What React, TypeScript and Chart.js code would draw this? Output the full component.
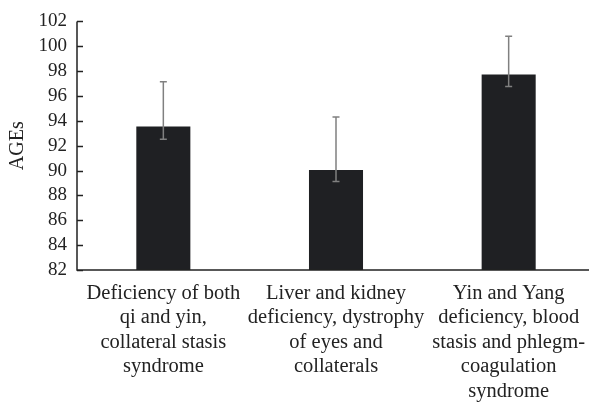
import React, { useEffect, useRef } from "react";
import { Chart, registerables } from "chart.js";

Chart.register(...registerables);

const categories: string[][] = [
  ["Deficiency of both", "qi and yin,", "collateral stasis", "syndrome"],
  ["Liver and kidney", "deficiency, dystrophy", "of eyes and", "collaterals"],
  ["Yin and Yang", "deficiency, blood", "stasis and phlegm-", "coagulation", "syndrome"],
];
const meanValues: number[] = [93.54, 90.04, 97.73];
const errorHigh: number[] = [97.15, 94.31, 100.81];
const errorLow: number[] = [92.51, 89.11, 96.76];
const yTicks: number[] = [82, 84, 86, 88, 90, 92, 94, 96, 98, 100, 102];

const FONT = "'Liberation Serif', serif";

const errorBarPlugin = {
  id: "errorBars",
  afterDatasetsDraw(chart: any) {
    const ctx = chart.ctx;
    const meta = chart.getDatasetMeta(0);
    const y = chart.scales.y;
    ctx.save();
    ctx.strokeStyle = "#808080";
    ctx.lineWidth = 1.5;
    meta.data.forEach((bar: any, i: number) => {
      const x = bar.x;
      const yHi = y.getPixelForValue(errorHigh[i]);
      const yLo = y.getPixelForValue(errorLow[i]);
      ctx.beginPath();
      ctx.moveTo(x, yHi);
      ctx.lineTo(x, yLo);
      ctx.moveTo(x - 3.5, yHi);
      ctx.lineTo(x + 3.5, yHi);
      ctx.moveTo(x - 3.5, yLo);
      ctx.lineTo(x + 3.5, yLo);
      ctx.stroke();
    });
    ctx.restore();
  },
};

const axisPlugin = {
  id: "axisLines",
  afterDraw(chart: any) {
    const ctx = chart.ctx;
    const y = chart.scales.y;
    const area = chart.chartArea;
    ctx.save();
    ctx.strokeStyle = "#222222";
    ctx.lineWidth = 1.5;
    ctx.beginPath();
    ctx.moveTo(area.left, area.top);
    ctx.lineTo(area.left, area.bottom);
    ctx.lineTo(chart.width, area.bottom);
    y.ticks.forEach((t: any) => {
      const py = Math.round(y.getPixelForValue(t.value)) + 0.5;
      ctx.moveTo(area.left, py);
      ctx.lineTo(area.left + 6, py);
    });
    ctx.stroke();
    ctx.restore();
  },
};

export default function App() {
  const ref = useRef<HTMLCanvasElement>(null);
  useEffect(() => {
    if (!ref.current) return;
    const chart = new Chart(ref.current, {
      type: "bar",
      data: {
        labels: categories,
        datasets: [
          {
            data: meanValues,
            backgroundColor: "#1f2023",
            borderWidth: 0,
            categoryPercentage: 1,
            barPercentage: 0.313,
          },
        ],
      },
      options: {
        responsive: false,
        animation: false,
        layout: { padding: { top: 17, right: 5, left: 0, bottom: 0 } },
        plugins: { legend: { display: false }, tooltip: { enabled: false } },
        scales: {
          x: {
            grid: { display: false, drawTicks: false },
            border: { display: false },
            ticks: {
              color: "#222",
              font: { family: FONT, size: 20.5, lineHeight: 1.2 },
              padding: 11,
              maxRotation: 0,
              autoSkip: false,
            },
            afterFit: (s: any) => {
              s.height = 134;
            },
          },
          y: {
            min: 82,
            max: 102,
            afterBuildTicks: (s: any) => {
              s.ticks = yTicks.map((v) => ({ value: v }));
            },
            grid: { display: false, drawTicks: false },
            border: { display: false },
            ticks: {
              color: "#222",
              font: { family: FONT, size: 19 },
              padding: 10,
              autoSkip: false,
            },
            title: {
              display: true,
              text: "AGEs",
              color: "#222",
              font: { family: FONT, size: 20 },
              padding: { top: 6, bottom: 0 },
            },
            afterFit: (s: any) => {
              s.width = 77;
            },
          },
        },
      },
      plugins: [errorBarPlugin, axisPlugin],
    });
    return () => chart.destroy();
  }, []);
  return (
    <div style={{ position: "absolute", left: 0, top: 0, width: 589, height: 404, overflow: "hidden", background: "#fff" }}>
      <canvas ref={ref} width={600} height={404} style={{ width: 600, height: 404, display: "block" }} />
    </div>
  );
}
